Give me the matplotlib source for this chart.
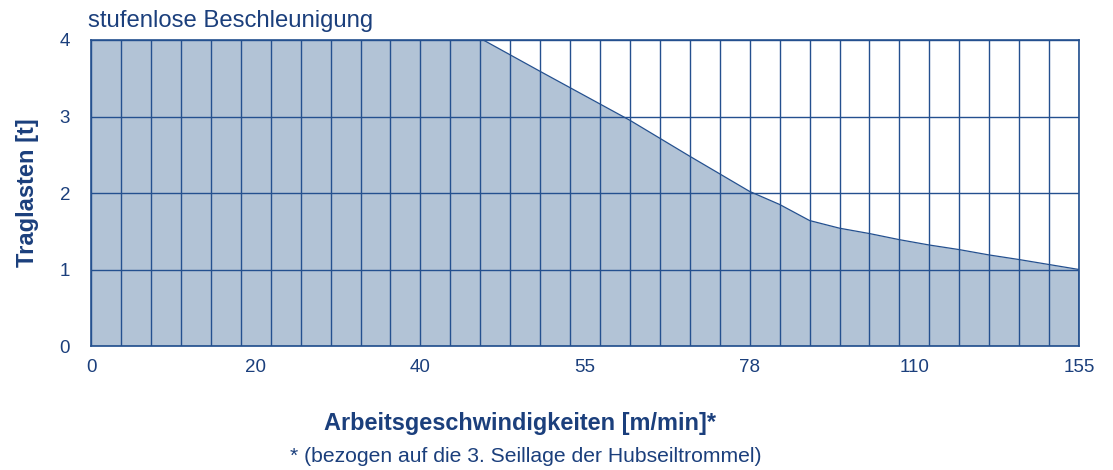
import matplotlib
matplotlib.use("Agg")
import matplotlib.pyplot as plt
from matplotlib.ticker import MultipleLocator

plt.rcParams['font.family'] = ['Liberation Sans', 'DejaVu Sans']

# Daten (x in Rasterspalten, 33 Spalten über die Achse)
spalte = [0, 13.1, 15, 18, 20, 22, 23, 24, 25, 26, 27, 28, 29, 30, 31, 32, 33, 33]
traglast = [4.0, 4.0, 3.59, 2.95, 2.48, 2.02, 1.85, 1.64, 1.54, 1.47, 1.39, 1.32,
            1.26, 1.19, 1.13, 1.065, 1.0, 0.0]
tick_pos = [0, 5.5, 11, 16.5, 22, 27.5, 33]
tick_labels = ['0', '20', '40', '55', '78', '110', '155']

navy = '#1b3f7c'
grid_col = '#24508f'
fill_col = '#b2c3d6'

fig = plt.figure(figsize=(11.13, 4.70), dpi=100)
ax = fig.add_axes([0.0818, 0.2638, 0.8877, 0.6511])

ax.fill_between(spalte, traglast, 0, color=fill_col, lw=0, zorder=1)
ax.plot(spalte, traglast, color=grid_col, lw=0.9, zorder=3)

ax.set_xlim(0, 33)
ax.set_ylim(0, 4)
ax.set_xticks(tick_pos)
ax.set_xticklabels(tick_labels)
ax.xaxis.set_minor_locator(MultipleLocator(1))
ax.xaxis.remove_overlapping_locs = False
ax.set_yticks([0, 1, 2, 3, 4])

ax.set_axisbelow(False)
ax.grid(which='minor', axis='x', color=grid_col, lw=1.0)
ax.grid(which='major', axis='y', color=grid_col, lw=1.0)

ax.tick_params(which='both', length=0, colors=navy, labelsize=13.5)
ax.tick_params(axis='y', pad=15)
ax.tick_params(axis='x', pad=9)
for s in ax.spines.values():
    s.set_color(grid_col)
    s.set_linewidth(1.2)

ax.set_ylabel('Traglasten [t]', color=navy, fontsize=17, fontweight='bold', labelpad=15)
fig.text(0.467, 0.085, 'Arbeitsgeschwindigkeiten [m/min]*', color=navy, fontsize=16.9,
         fontweight='bold', ha='center', va='baseline')
fig.text(0.079, 0.9426, 'stufenlose Beschleunigung', color=navy, fontsize=17.2,
         ha='left', va='baseline')
fig.text(0.4725, 0.017, '* (bezogen auf die 3. Seillage der Hubseiltrommel)',
         color=navy, fontsize=15.2, ha='center', va='baseline')

fig.savefig('out.png', dpi=100)
